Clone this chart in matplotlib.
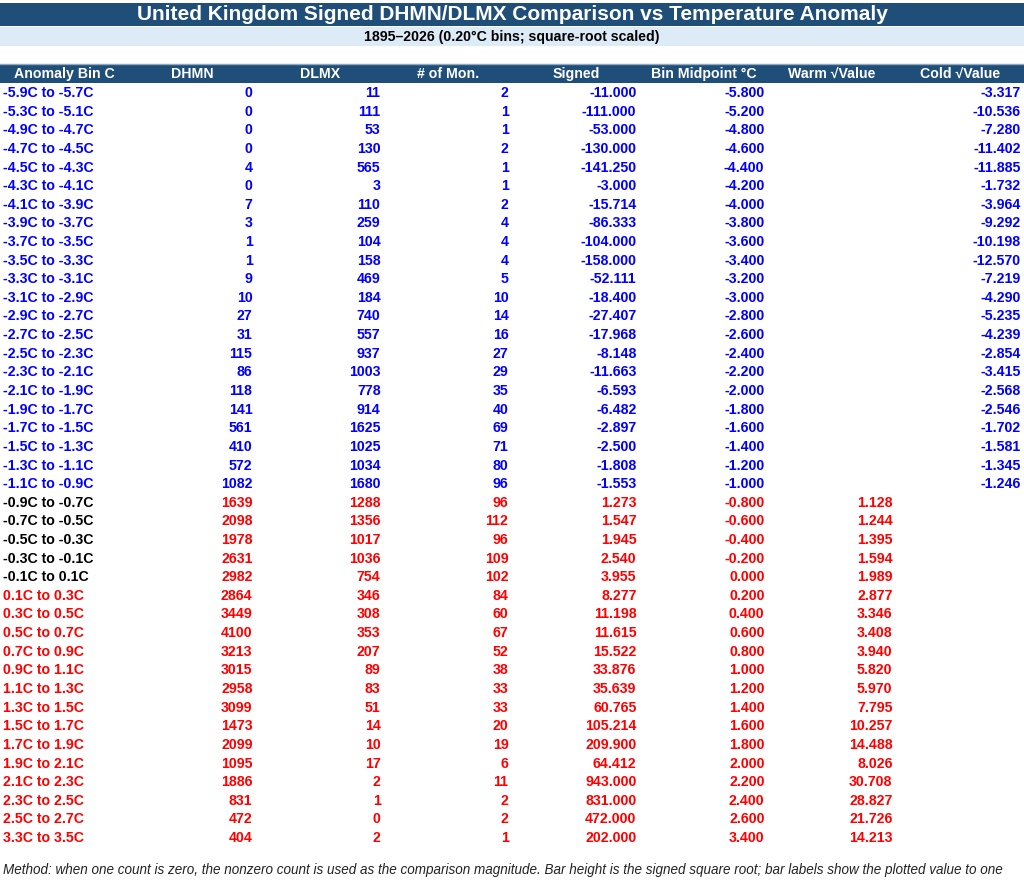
import matplotlib
matplotlib.use("Agg")
import matplotlib.pyplot as plt
from matplotlib.patches import Rectangle

plt.rcParams['font.family'] = ['Liberation Sans', 'DejaVu Sans']

title = "United Kingdom Signed DHMN/DLMX Comparison vs Temperature Anomaly"
subtitle = "1895\u20132026 (0.20\u00b0C bins; square-root scaled)"
headers = ["Anomaly Bin C", "DHMN", "DLMX", "# of Mon.", "Signed",
           "Bin Midpoint \u00b0C", "Warm \u221aValue", "Cold \u221aValue"]
footnote = ("Method: when one count is zero, the nonzero count is used as the comparison "
            "magnitude. Bar height is the signed square root; bar labels show the plotted value to one")

bins = ["-5.9C to -5.7C", "-5.3C to -5.1C", "-4.9C to -4.7C", "-4.7C to -4.5C",
        "-4.5C to -4.3C", "-4.3C to -4.1C", "-4.1C to -3.9C", "-3.9C to -3.7C",
        "-3.7C to -3.5C", "-3.5C to -3.3C", "-3.3C to -3.1C", "-3.1C to -2.9C",
        "-2.9C to -2.7C", "-2.7C to -2.5C", "-2.5C to -2.3C", "-2.3C to -2.1C",
        "-2.1C to -1.9C", "-1.9C to -1.7C", "-1.7C to -1.5C", "-1.5C to -1.3C",
        "-1.3C to -1.1C", "-1.1C to -0.9C", "-0.9C to -0.7C", "-0.7C to -0.5C",
        "-0.5C to -0.3C", "-0.3C to -0.1C", "-0.1C to 0.1C", "0.1C to 0.3C",
        "0.3C to 0.5C", "0.5C to 0.7C", "0.7C to 0.9C", "0.9C to 1.1C",
        "1.1C to 1.3C", "1.3C to 1.5C", "1.5C to 1.7C", "1.7C to 1.9C",
        "1.9C to 2.1C", "2.1C to 2.3C", "2.3C to 2.5C", "2.5C to 2.7C",
        "3.3C to 3.5C"]
dhmn = [0, 0, 0, 0, 4, 0, 7, 3, 1, 1, 9, 10, 27, 31, 115, 86, 118, 141, 561, 410,
        572, 1082, 1639, 2098, 1978, 2631, 2982, 2864, 3449, 4100, 3213, 3015, 2958,
        3099, 1473, 2099, 1095, 1886, 831, 472, 404]
dlmx = [11, 111, 53, 130, 565, 3, 110, 259, 104, 158, 469, 184, 740, 557, 937, 1003,
        778, 914, 1625, 1025, 1034, 1680, 1288, 1356, 1017, 1036, 754, 346, 308, 353,
        207, 89, 83, 51, 14, 10, 17, 2, 1, 0, 2]
n_mon = [2, 1, 1, 2, 1, 1, 2, 4, 4, 4, 5, 10, 14, 16, 27, 29, 35, 40, 69, 71, 80, 96,
         96, 112, 96, 109, 102, 84, 60, 67, 52, 38, 33, 33, 20, 19, 6, 11, 2, 2, 1]
signed = [-11.000, -111.000, -53.000, -130.000, -141.250, -3.000, -15.714, -86.333,
          -104.000, -158.000, -52.111, -18.400, -27.407, -17.968, -8.148, -11.663,
          -6.593, -6.482, -2.897, -2.500, -1.808, -1.553, 1.273, 1.547, 1.945, 2.540,
          3.955, 8.277, 11.198, 11.615, 15.522, 33.876, 35.639, 60.765, 105.214,
          209.900, 64.412, 943.000, 831.000, 472.000, 202.000]
midpoint = [-5.8, -5.2, -4.8, -4.6, -4.4, -4.2, -4.0, -3.8, -3.6, -3.4, -3.2, -3.0,
            -2.8, -2.6, -2.4, -2.2, -2.0, -1.8, -1.6, -1.4, -1.2, -1.0, -0.8, -0.6,
            -0.4, -0.2, 0.0, 0.2, 0.4, 0.6, 0.8, 1.0, 1.2, 1.4, 1.6, 1.8, 2.0, 2.2,
            2.4, 2.6, 3.4]
warm = [None] * 22 + [1.128, 1.244, 1.395, 1.594, 1.989, 2.877, 3.346, 3.408, 3.940,
                      5.820, 5.970, 7.795, 10.257, 14.488, 8.026, 30.708, 28.827,
                      21.726, 14.213]
cold = [-3.317, -10.536, -7.280, -11.402, -11.885, -1.732, -3.964, -9.292, -10.198,
        -12.570, -7.219, -4.290, -5.235, -4.239, -2.854, -3.415, -2.568, -2.546,
        -1.702, -1.581, -1.345, -1.246] + [None] * 19

W, H = 1024, 881
fig = plt.figure(figsize=(W / 100, H / 100), dpi=100)
ax = fig.add_axes([0, 0, 1, 1])
ax.set_xlim(0, W)
ax.set_ylim(H, 0)
ax.axis('off')

DARK = '#1F4E79'
LIGHT = '#DDEBF7'
BLUE = '#0000FF'
RED = '#FF0000'
FS = 10.2

# title bars
ax.add_patch(Rectangle((0, 3), W, 23, color=DARK, lw=0))
ax.text(W / 2, 15, title, color='white', fontsize=15, fontweight='bold',
        ha='center', va='center')
ax.add_patch(Rectangle((0, 27), W, 19, color=LIGHT, lw=0))
ax.text(W / 2, 36.5, subtitle, color='black', fontsize=FS, fontweight='bold',
        ha='center', va='center')

# header bar
ax.add_patch(Rectangle((0, 64), W, 19, color=DARK, lw=0))
ax.plot([0, W], [64, 64], color='#8EA9C1', lw=1)
colw = W / 8
for i, h in enumerate(headers):
    ax.text(colw * i + colw / 2, 74, h, color='white', fontsize=FS,
            fontweight='bold', ha='center', va='center')

y0, step = 93.0, 18.625
for r in range(len(bins)):
    y = y0 + r * step
    vcol = BLUE if signed[r] < 0 else RED
    if signed[r] < 0:
        lcol = BLUE
    elif midpoint[r] <= 0:
        lcol = 'black'
    else:
        lcol = RED
    ax.text(3, y, bins[r], color=lcol, fontsize=FS, fontweight='bold',
            ha='left', va='center')
    vals = [str(dhmn[r]), str(dlmx[r]), str(n_mon[r]), f"{signed[r]:.3f}",
            f"{midpoint[r]:.3f}",
            "" if warm[r] is None else f"{warm[r]:.3f}",
            "" if cold[r] is None else f"{cold[r]:.3f}"]
    for c, v in enumerate(vals):
        if v:
            ax.text(colw * (c + 2) - 3.5, y, v, color=vcol, fontsize=FS,
                    fontweight='bold', ha='right', va='center')

ax.text(3, 870, footnote, color='#222222', fontsize=9.72, fontstyle='italic',
        ha='left', va='center')

fig.savefig('out.png', dpi=100)
